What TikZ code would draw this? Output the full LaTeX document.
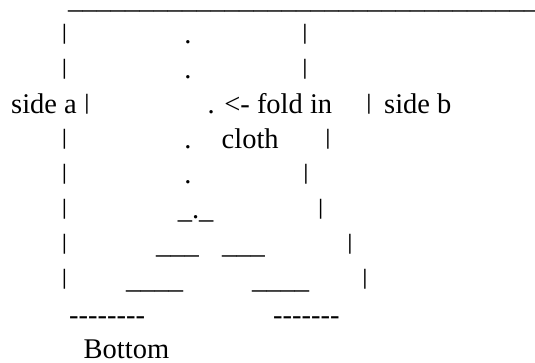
\documentclass[tikz,border=0pt]{standalone}
\usepackage{fontspec}
\usepackage{graphicx}
\setmainfont{Liberation Serif}[Ligatures=TeXOff]
\newcommand\shortbar{\raisebox{4pt}{\scalebox{1}[0.77]{|}}}
\tikzset{art/.style={inner sep=0pt,anchor=base west,font=\fontsize{28.5}{35}\selectfont},
  dot/.style={art,anchor=base}}

\begin{document}
\begin{tikzpicture}[x=1pt,y=-1pt]
        \useasboundingbox (0,0) rectangle (535,362);
        \node [art] (top) at (68,8) {\_\_\_\_\_\_\_\_\_\_\_\_\_\_\_\_\_\_\_\_\_\_\_\_\_\_\_\_\_\_\_\_\_};

        \node [dot] (l1) at (64.5,43) {\shortbar};
        \node [dot] (d1) at (188,43) {.};
        \node [dot] (r1) at (305,43) {\shortbar};

        \node [dot] (l2) at (64.5,78) {\shortbar};
        \node [dot] (d2) at (188,78) {.};
        \node [dot] (r2) at (305,78) {\shortbar};

        \node [art] (sidea) at (11,113) {side a \shortbar};
        \node [art] (fold)  at (207.5,113) {. <- fold in};
        \node [dot] (r3)    at (369,113) {\shortbar};
        \node [art] (sideb) at (384,113) {side b};

        \node [dot] (l4) at (64.5,148) {\shortbar};
        \node [dot] (d4) at (188,148) {.};
        \node [art] (cloth) at (221.5,148) {cloth};
        \node [dot] (r4) at (328,148) {\shortbar};

        \node [dot] (l5) at (64.5,183) {\shortbar};
        \node [dot] (d5) at (188,183) {.};
        \node [dot] (r5) at (306,183) {\shortbar};

        \node [dot] (l6) at (64.5,218) {\shortbar};
        \node [art] (tip) at (177.6,218) {\_.\_};
        \node [dot] (r6) at (320.7,218) {\shortbar};

        \node [dot] (l7) at (64.5,253) {\shortbar};
        \node [art] (in7l) at (156,253) {\_\_\_};
        \node [art] (in7r) at (222,253) {\_\_\_};
        \node [dot] (r7) at (350,253) {\shortbar};

        \node [dot] (l8) at (64.5,288) {\shortbar};
        \node [art] (in8l) at (126,288) {\_\_\_\_};
        \node [art] (in8r) at (252,288) {\_\_\_\_};
        \node [dot] (r8) at (365,288) {\shortbar};

        \node [art] (hema) at (69,324) {--------};
        \node [art] (hemb) at (273,324) {-------};
        \node [art] (bottom) at (83.5,358) {Bottom};
      \end{tikzpicture}
\end{document}
